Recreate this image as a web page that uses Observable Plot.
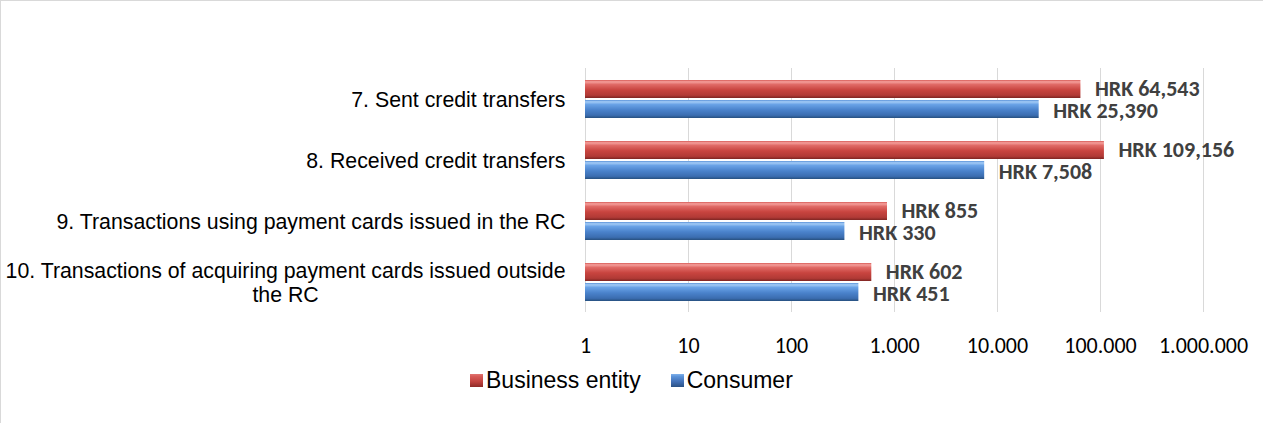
<!DOCTYPE html>
<html><head><meta charset="utf-8">
<script src="https://cdn.jsdelivr.net/npm/d3@7"></script>
<script src="https://cdn.jsdelivr.net/npm/@observablehq/plot@0.6"></script>
<style>
html,body{margin:0;padding:0;background:#fff;}
#wrap{position:relative;width:1263px;height:423px;overflow:hidden;background:#fff;}
#frame{position:absolute;left:0;top:0;width:1263px;height:423px;border-top:1px solid #d9d9d9;border-left:1px solid #d9d9d9;box-sizing:border-box;pointer-events:none;}
#chart{position:absolute;left:0;top:0;}
#legend{position:absolute;left:470px;top:367px;font-family:"Liberation Sans",Arial,sans-serif;font-size:23px;line-height:26px;color:#000;display:flex;align-items:center;white-space:nowrap;}
.sw{display:inline-block;width:13px;height:13px;margin-right:3px;}
.item{display:flex;align-items:center;margin-right:30px;}
</style></head>
<body><div id="wrap"><div id="chart"></div><div id="legend"></div><div id="frame"></div></div>
<script>
const categories = [
  "7. Sent credit transfers",
  "8. Received credit transfers",
  "9. Transactions using payment cards issued in the RC",
  "10. Transactions of acquiring payment cards issued outside\nthe RC"
];
const seriesNames = ["Business entity", "Consumer"];
const businessValues = [64543, 109156, 855, 602];
const consumerValues = [25390, 7508, 330, 451];
const xTicks = [1, 10, 100, 1000, 10000, 100000, 1000000];
const xTickLabels = ["1", "10", "100", "1.000", "10.000", "100.000", "1.000.000"];

const data = [];
categories.forEach((c, i) => {
  data.push({category: c, series: seriesNames[0], value: businessValues[i]});
  data.push({category: c, series: seriesNames[1], value: consumerValues[i]});
});

function defsMark() {
  const ns = "http://www.w3.org/2000/svg";
  const d = document.createElementNS(ns, "defs");
  d.innerHTML = `
  <linearGradient id="gradRed" x1="0" y1="0" x2="0" y2="1">
    <stop offset="0" stop-color="#d65a56"/>
    <stop offset="0.1" stop-color="#f59f9b"/>
    <stop offset="0.25" stop-color="#e06a66"/>
    <stop offset="0.55" stop-color="#c8443f"/>
    <stop offset="0.85" stop-color="#b13a36"/>
    <stop offset="1" stop-color="#7e2522"/>
  </linearGradient>
  <linearGradient id="gradBlue" x1="0" y1="0" x2="0" y2="1">
    <stop offset="0" stop-color="#5a92d8"/>
    <stop offset="0.1" stop-color="#a3cbf6"/>
    <stop offset="0.25" stop-color="#69a2e6"/>
    <stop offset="0.55" stop-color="#4a82cb"/>
    <stop offset="0.85" stop-color="#3b6db0"/>
    <stop offset="1" stop-color="#27507f"/>
  </linearGradient>`;
  return d;
}

const fmt = d3.format(",");
const calibri = 'Carlito, Calibri, "DejaVu Sans Condensed", sans-serif';
const labelOpts = (dy) => ({
  x: "value", y: "series", fy: "category",
  text: d => "HRK " + fmt(d.value),
  textAnchor: "start", dx: 14, dy,
  fontWeight: "bold", fontSize: 22, fill: "#404040",
  fontFamily: calibri
});
const plot = Plot.plot({
  width: 1263,
  height: 360,
  marginTop: 66,
  marginBottom: 47,
  marginLeft: 585,
  marginRight: 60,
  style: {fontFamily: '"Liberation Sans", Arial, sans-serif', fontSize: "21px", color: "#000", background: "transparent", overflow: "visible"},
  x: {type: "log", domain: [1, 1000000], axis: null},
  y: {domain: seriesNames, paddingInner: 0.1, paddingOuter: 0.52, axis: null},
  fy: {domain: categories, padding: 0, axis: null},
  marks: [
    defsMark,
    Plot.gridX(xTicks, {stroke: "#d9d9d9", strokeOpacity: 1, strokeWidth: 1}),
    Plot.barX(data, {
      x1: () => 1, x2: "value", y: "series", fy: "category",
      fill: d => d.series === seriesNames[0] ? "url(#gradRed)" : "url(#gradBlue)"
    }),
    Plot.text(data.filter(d => d.series === seriesNames[0]), labelOpts(-0.5)),
    Plot.text(data.filter(d => d.series === seriesNames[1]), labelOpts(1.5)),
    Plot.axisX(xTicks, {
      anchor: "bottom", tickSize: 0, tickPadding: 25, fontSize: 22, fontFamily: calibri,
      tickFormat: d => xTickLabels[xTicks.indexOf(d)], label: null
    }),
    Plot.axisFy({
      anchor: "left", tickSize: 0, tickPadding: 20, fontSize: 21.3, lineHeight: 1.13, label: null
    })
  ]
});
document.getElementById("chart").appendChild(plot);

// center multi-line category labels like the original (block right aligned, lines centered)
plot.querySelectorAll("text").forEach(t => {
  const ts = t.querySelectorAll("tspan");
  if (ts.length > 1 && categories.some(c => c.replace("\n", "") === t.textContent.replace("\n", ""))) {
    let w = 0;
    ts.forEach(s => { w = Math.max(w, s.getComputedTextLength()); });
    t.setAttribute("text-anchor", "middle");
    t.setAttribute("transform", (t.getAttribute("transform") || "") + ` translate(${-w / 2},0)`);
  }
});

// legend
const legend = document.getElementById("legend");
const swatchBg = [
  "linear-gradient(to bottom,#e07470 0%,#d65a56 20%,#c0423e 60%,#8e2a27 100%)",
  "linear-gradient(to bottom,#7fb0ea 0%,#5a92d8 20%,#416fb5 60%,#2a5184 100%)"
];
seriesNames.forEach((s, i) => {
  const item = document.createElement("span");
  item.className = "item";
  const sw = document.createElement("span");
  sw.className = "sw";
  sw.style.background = swatchBg[i];
  item.appendChild(sw);
  item.appendChild(document.createTextNode(s));
  legend.appendChild(item);
});
</script>
</body></html>
